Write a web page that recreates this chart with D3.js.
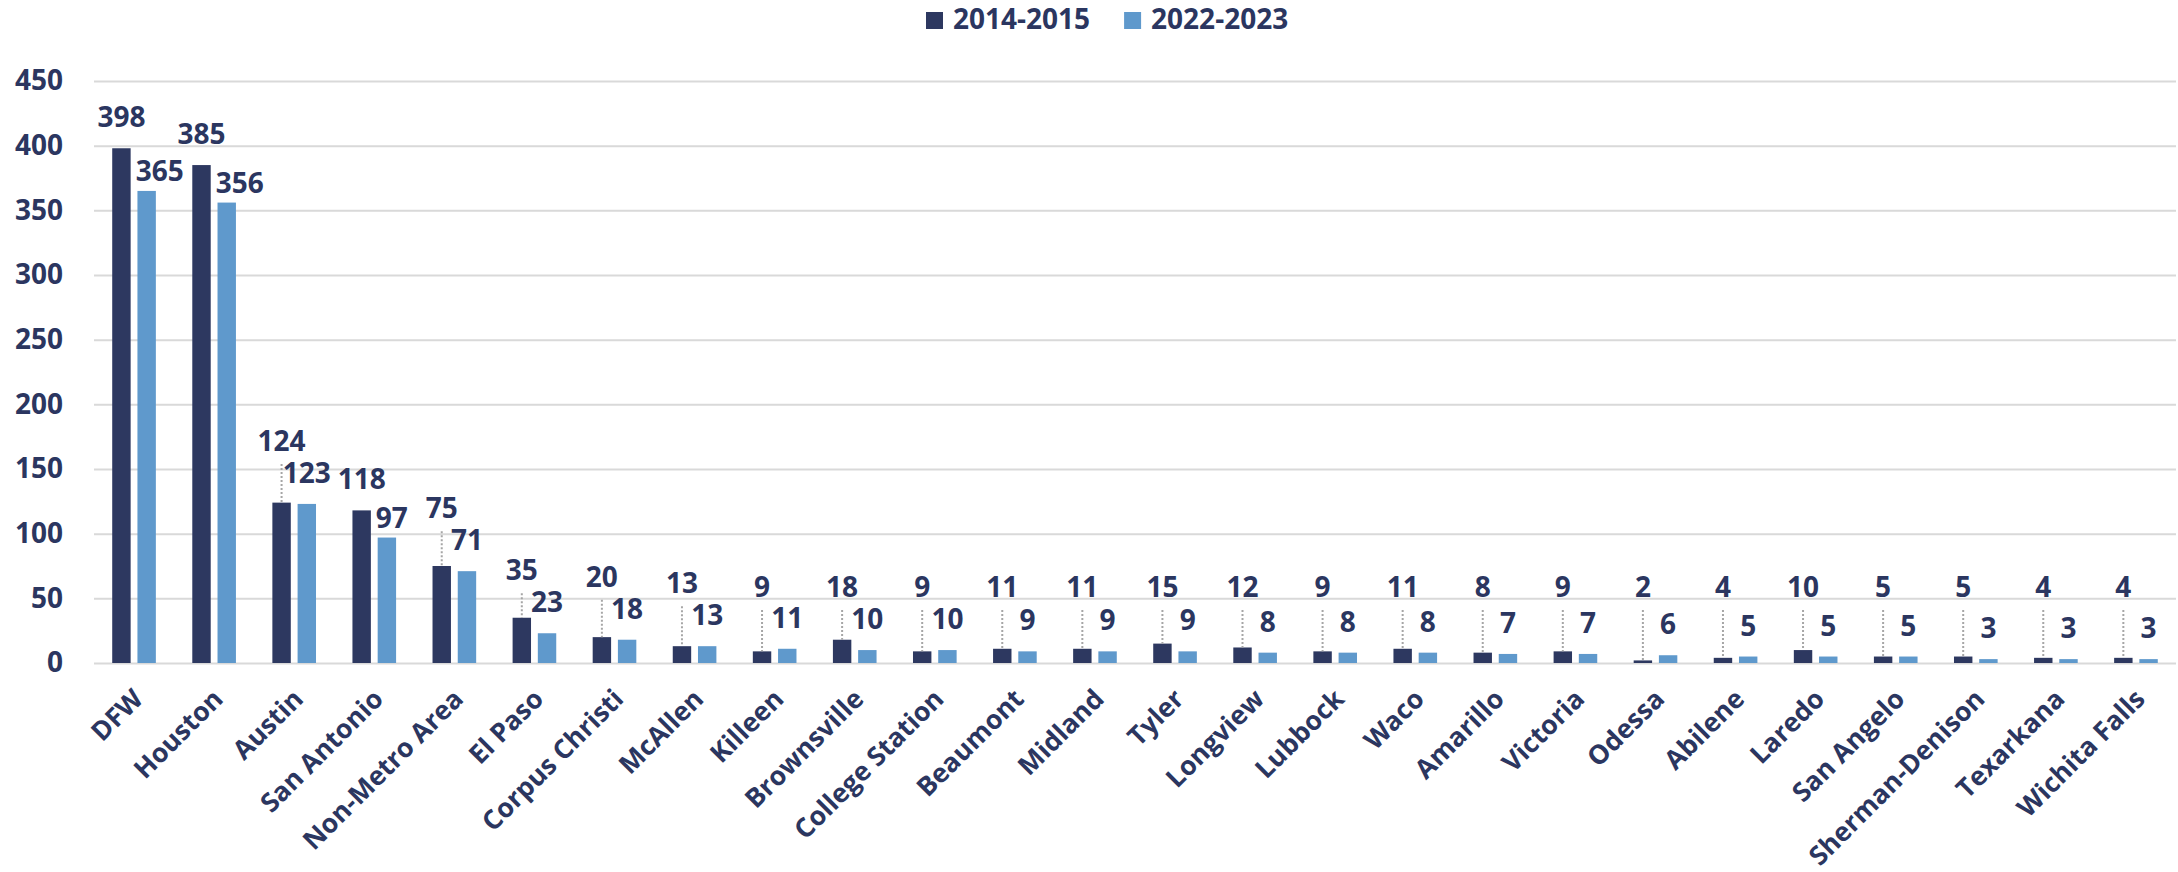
<!DOCTYPE html>
<html>
<head>
<meta charset="utf-8">
<script src="https://cdn.jsdelivr.net/npm/d3@7"></script>
<style>
  body { margin: 0; background: #fff; }
  text { font-family: "Open Sans", sans-serif; font-weight: 700; fill: #2b3660; }
</style>
</head>
<body>
<svg id="chart" width="2178" height="872"></svg>
<script>
// values
const regions = ["DFW", "Houston", "Austin", "San Antonio", "Non-Metro Area", "El Paso",
  "Corpus Christi", "McAllen", "Killeen", "Brownsville", "College Station", "Beaumont",
  "Midland", "Tyler", "Longview", "Lubbock", "Waco", "Amarillo", "Victoria", "Odessa",
  "Abilene", "Laredo", "San Angelo", "Sherman-Denison", "Texarkana", "Wichita Falls"];
const y2015 = [398, 385, 124, 118, 75, 35, 20, 13, 9, 18, 9, 11, 11, 15, 12, 9, 11, 8, 9, 2, 4, 10, 5, 5, 4, 4];
const y2023 = [365, 356, 123, 97, 71, 23, 18, 13, 11, 10, 10, 9, 9, 9, 8, 8, 8, 7, 7, 6, 5, 5, 5, 3, 3, 3];
const seriesNames = ["2014-2015", "2022-2023"];
const yTicks = [0, 50, 100, 150, 200, 250, 300, 350, 400, 450];

const darkColor = "#2d3860",
      lightColor = "#5f99cc",
      gridColor = "#d9d9d9";

const svg = d3.select("#chart");
const plotL = 94, plotR = 2176, plotT = 81, plotB = 663;
const fs = 28;

const x = d3.scaleBand().domain(regions).range([plotL, plotR]);
const y = d3.scaleLinear().domain([0, 450]).range([plotB, plotT]);

const bw = x.bandwidth() * 0.23,   // bar width
      gap = x.bandwidth() * 0.085; // space between the pair

// y axis + gridlines
const yAxis = svg.append("g")
  .attr("transform", `translate(${plotL},0)`)
  .call(d3.axisLeft(y).tickValues(yTicks).tickSize(-(plotR - plotL)).tickPadding(31));
yAxis.select(".domain").remove();
yAxis.selectAll("line").attr("stroke", gridColor).attr("stroke-width", 2);
yAxis.selectAll("text")
  .attr("font-size", fs)
  .attr("fill", null);
yAxis.attr("font-family", null).attr("font-size", null);

// x axis labels (the original font is a touch narrower than Open Sans)
const xAxis = svg.append("g")
  .attr("transform", `translate(0,${plotB})`)
  .call(d3.axisBottom(x).tickSize(0));
xAxis.select(".domain").remove();
xAxis.attr("font-family", null).attr("font-size", null);
xAxis.selectAll("text")
  .attr("font-size", 26.5)
  .attr("fill", null)
  .attr("y", 0)
  .attr("dy", "0.35em")
  .attr("text-anchor", "end")
  .attr("transform", "translate(4,31) rotate(-45)");

// bars
const bars = svg.append("g");
regions.forEach((r, i) => {
  const cx = x(r) + x.bandwidth() / 2;
  bars.append("rect")
    .attr("x", cx - gap / 2 - bw).attr("width", bw)
    .attr("y", y(y2015[i])).attr("height", y(0) - y(y2015[i]))
    .attr("fill", darkColor);
  bars.append("rect")
    .attr("x", cx + gap / 2).attr("width", bw)
    .attr("y", y(y2023[i])).attr("height", y(0) - y(y2023[i]))
    .attr("fill", lightColor);
});

// data labels, nudged apart like the hand-placed ones in the original
const labels = svg.append("g").attr("font-size", fs).attr("text-anchor", "middle");
const leaders = svg.append("g")
  .attr("stroke", "#a6a6a6").attr("stroke-width", 2).attr("stroke-dasharray", "2,2");
const lowestDark = y(0) - 66;

regions.forEach((r, i) => {
  const cx = x(r) + x.bandwidth() / 2;
  const dCx = cx - gap / 2 - bw / 2,
        lCx = cx + gap / 2 + bw / 2;
  const dTop = y(y2015[i]), lTop = y(y2023[i]);

  const lt = labels.append("text").text(y2023[i]);
  const lw = lt.node().getComputedTextLength();
  let lx = lCx, lb = lTop - 21;
  // keep the light label off the dark bar: slide it right and a bit down
  if (lx - lw / 2 < dCx + bw / 2 + 4 && lb + 2 > dTop) {
    lx = dCx + bw / 2 + 5 + lw / 2;
    lb += 11;
  }
  lt.attr("x", lx).attr("y", lb);

  const dt = labels.append("text").text(y2015[i]);
  const dw = dt.node().getComputedTextLength();
  const dDefault = dTop - 21;
  let db = Math.min(dDefault, lowestDark);
  if (dCx + dw / 2 > lx - lw / 2) db = Math.min(db, lb - 32);
  dt.attr("x", dCx).attr("y", db);

  if (db < dDefault - 2) {
    leaders.append("line")
      .attr("x1", dCx).attr("x2", dCx)
      .attr("y1", db + 13).attr("y2", dTop);
  }
});

// legend
const legend = svg.append("g").attr("font-size", fs);
let legX = 926;
seriesNames.forEach((s, i) => {
  legend.append("rect")
    .attr("x", legX).attr("y", 12).attr("width", 17).attr("height", 17)
    .attr("fill", i === 0 ? darkColor : lightColor);
  const t = legend.append("text").attr("x", legX + 27).attr("y", 29).text(s);
  legX += 27 + t.node().getComputedTextLength() + 34;
});
</script>
</body>
</html>
